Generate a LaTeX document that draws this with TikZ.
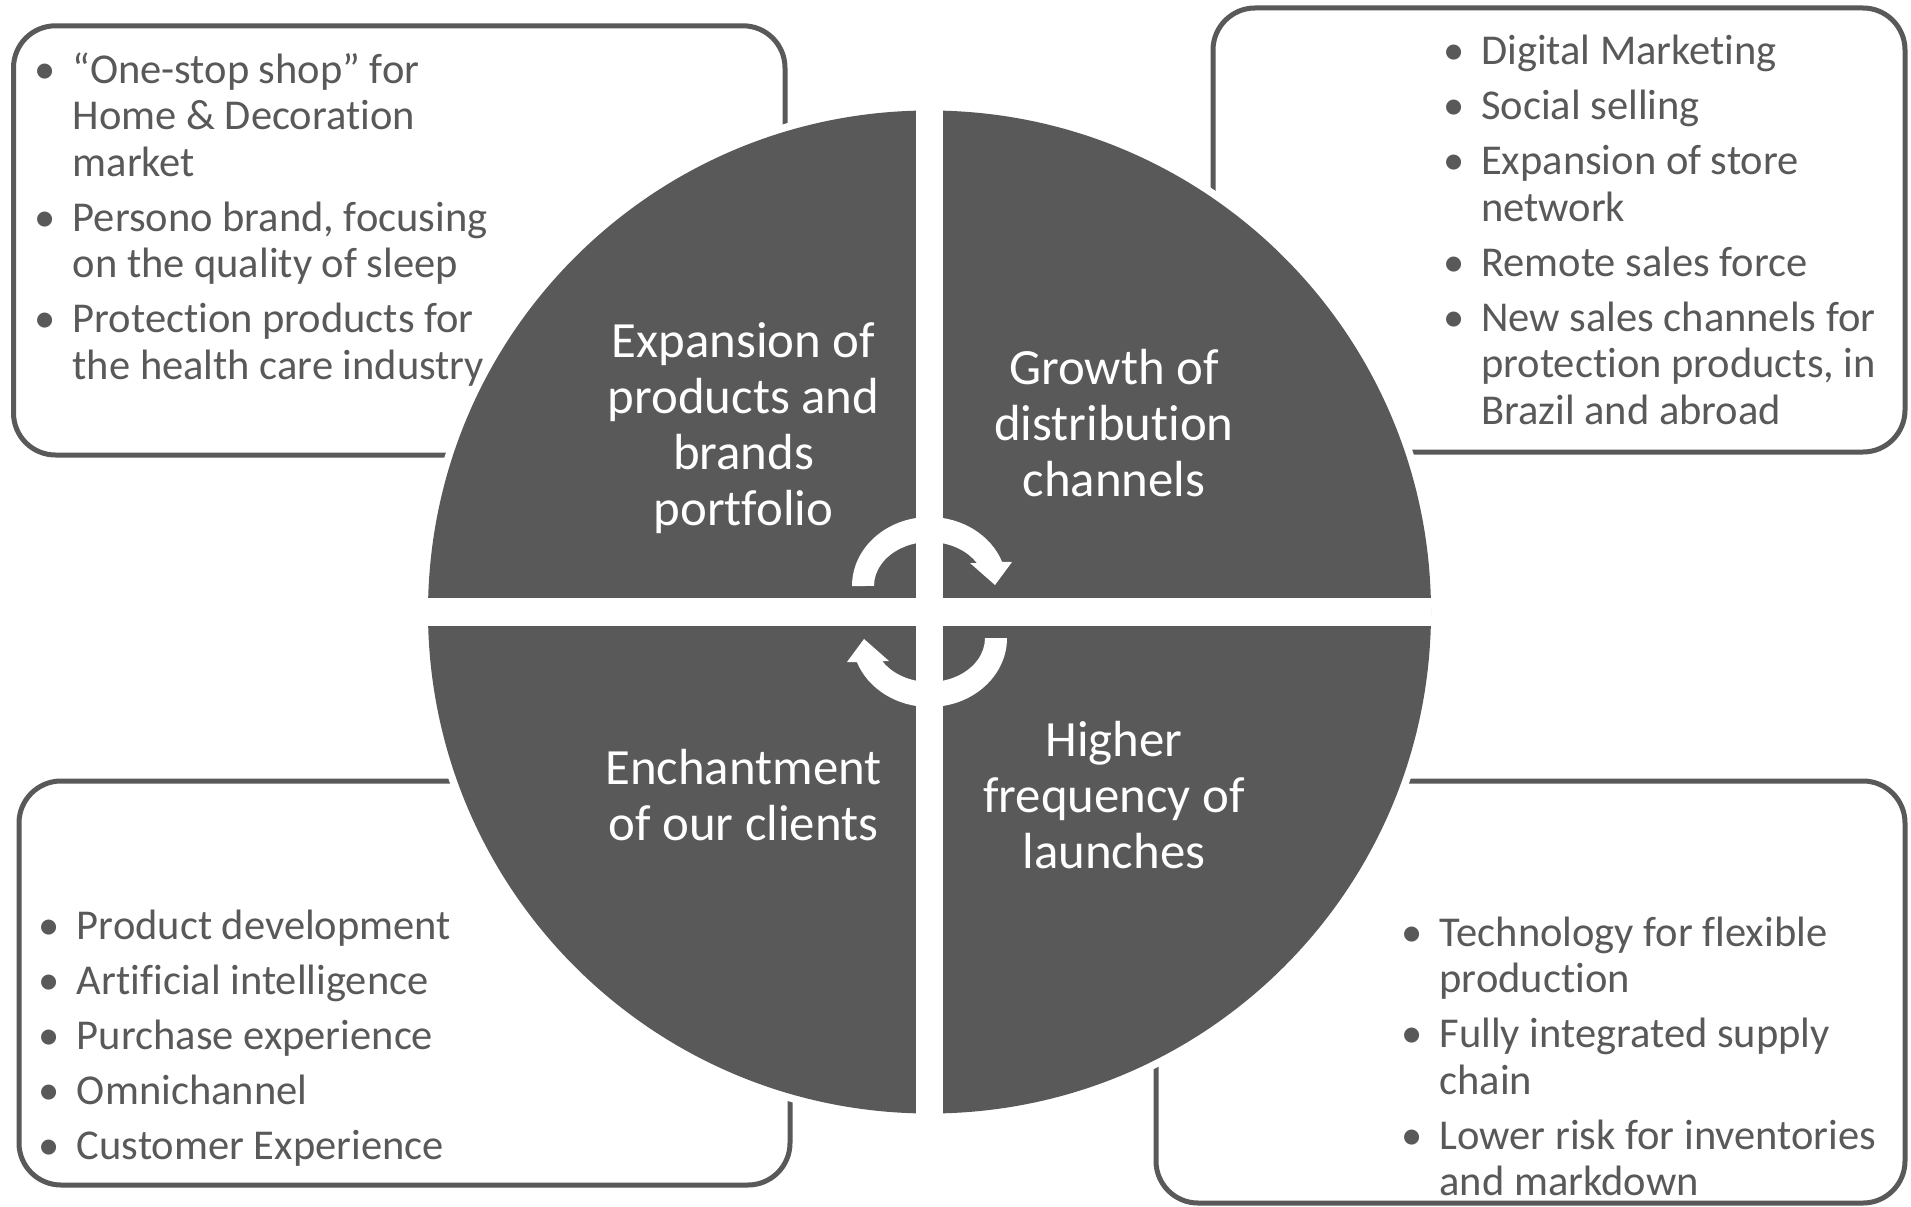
\documentclass[tikz,border=0pt]{standalone}
\usepackage{fontspec}
\setmainfont{Carlito}[Ligatures=NoCommon]
\usetikzlibrary{calc}
\definecolor{ink}{HTML}{595959}

% bullet set in the margin, centred 27.5pt left of the text
\newcommand\itm{\llap{\makebox[55pt]{\textbullet}}}

\tikzset{
  panel/.style={draw=ink, line width=5pt, rounded corners=42pt, fill=white, inner sep=0pt},
  bullets/.style={anchor=base west, inner sep=0pt, text=ink,
    font=\fontsize{42.5}{46.5}\selectfont},
  quadlabel/.style={anchor=base, inner sep=0pt, text=white,
    font=\fontsize{50.8}{56}\selectfont},
  cyclearrow/.pic={
    \fill[white] (-77.5,0)
      arc[start angle=180, end angle=20.4, x radius=77.5, y radius=69]
      -- (82.5,24) -- (65.5,1) -- (40.5,23) -- (47.32,23)
      arc[start angle=31.5, end angle=180, x radius=55.5, y radius=44]
      -- cycle;
  },
}

\begin{document}
\begin{tikzpicture}[x=1pt, y=1pt]
\useasboundingbox (0,0) rectangle (1911,-1207);
\fill[white] (0,0) rectangle (1911,-1207);

% corner panels
\node[panel, minimum width=771.5pt, minimum height=429.2pt] (tlbox) at (399.25,-240.4) {};
\node[panel, minimum width=692pt, minimum height=444pt] (trbox) at (1559,-230) {};
\node[panel, minimum width=771pt, minimum height=404pt] (blbox) at (404.5,-983) {};
\node[panel, minimum width=749pt, minimum height=422pt] (brbox) at (1530.5,-992) {};

% panel contents
\node[bullets] (tltext) at (72.5,-83) {\begin{tabular}[t]{@{}l@{}}
\itm “One-stop shop” for\\
Home \& Decoration\\
market\\[8.5pt]
\itm Persono brand, focusing\\
on the quality of sleep\\[8.5pt]
\itm Protection products for\\
the health care industry
\end{tabular}};

\node[bullets] (trtext) at (1481,-64.7) {\begin{tabular}[t]{@{}l@{}}
\itm Digital Marketing\\[8.5pt]
\itm Social selling\\[8.5pt]
\itm Expansion of store\\
network\\[8.5pt]
\itm Remote sales force\\[8.5pt]
\itm New sales channels for\\
protection products, in\\
Brazil and abroad
\end{tabular}};

\node[bullets] (bltext) at (76.8,-939.8) {\begin{tabular}[t]{@{}l@{}}
\itm Product development\\[8.5pt]
\itm Artificial intelligence\\[8.5pt]
\itm Purchase experience\\[8.5pt]
\itm Omnichannel\\[8.5pt]
\itm Customer Experience
\end{tabular}};

\node[bullets] (brtext) at (1439.4,-946) {\begin{tabular}[t]{@{}l@{}}
\itm Technology for flexible\\
production\\[8.5pt]
\itm Fully integrated supply\\
chain\\[8.5pt]
\itm Lower risk for inventories\\
and markdown
\end{tabular}};

% central disc split into four quadrants
\coordinate (c) at (929.5,-612);
\fill[white] (c) circle (509);
\fill[ink] (c) circle (501.5);
\begin{scope}
  \clip (c) circle (502);
  \fill[white] ($(c)+(-13.75,-520)$) rectangle ($(c)+(13.75,520)$);
  \fill[white] ($(c)+(-520,-14)$) rectangle ($(c)+(520,14)$);
\end{scope}

% cycle arrows around the centre
\pic (uparrow) at (929.5,-586) {cyclearrow};
\pic[rotate=180] (lowarrow) at (929.5,-638) {cyclearrow};

% quadrant labels
\node[quadlabel] (qtl) at (743.5,-357) {\begin{tabular}[t]{@{}c@{}}
Expansion of\\ products and\\ brands\\ portfolio\end{tabular}};
\node[quadlabel] (qtr) at (1114,-384) {\begin{tabular}[t]{@{}c@{}}
Growth of\\ distribution\\ channels\end{tabular}};
\node[quadlabel] (qbl) at (743.5,-784) {\begin{tabular}[t]{@{}c@{}}
Enchantment\\ of our clients\end{tabular}};
\node[quadlabel] (qbr) at (1114,-756) {\begin{tabular}[t]{@{}c@{}}
Higher\\ frequency of\\ launches\end{tabular}};
\end{tikzpicture}
\end{document}
